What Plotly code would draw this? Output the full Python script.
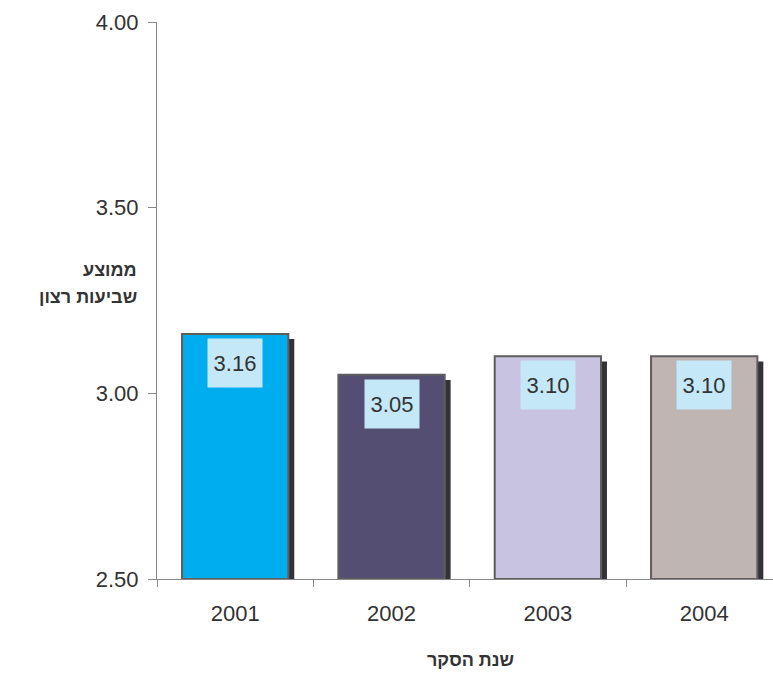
import plotly.graph_objects as go

years = ["2001", "2002", "2003", "2004"]
values = [3.16, 3.05, 3.10, 3.10]
labels = ["3.16", "3.05", "3.10", "3.10"]
colors = ["#00aeef", "#544e72", "#c7c3e0", "#bfb5b2"]
y_ticks = [2.5, 3.0, 3.5, 4.0]
y_tick_text = ["2.50", "3.00", "3.50", "4.00"]
y_title_lines = ["ממוצע", "שביעות רצון"]
x_title = "שנת הסקר"

FONT = "Liberation Sans, Arial, sans-serif"
W, H = 773, 674
ML, MR, MT, MB = 157, 0, 22, 95
PW, PH = W - ML - MR, H - MT - MB
base_val = 2.5
bar_w = 0.68
dx = 0.038
dy = 0.014


def px(x):
    return (x - ML) / PW


def py(y):
    return (H - MB - y) / PH


fig = go.Figure()
# shadow
fig.add_trace(go.Bar(
    x=years, y=[v - base_val for v in values], base=base_val - dy,
    width=bar_w, offset=-bar_w / 2 + dx,
    marker=dict(color="#333238", line=dict(width=0)),
    hoverinfo="skip", showlegend=False,
))
fig.add_trace(go.Bar(
    x=years, y=[v - base_val for v in values], base=base_val,
    width=bar_w, offset=-bar_w / 2,
    marker=dict(color=colors, line=dict(width=2, color="#5e5e5e")),
    showlegend=False,
))

for i, (v, t) in enumerate(zip(values, labels)):
    fig.add_annotation(
        x=i, y=v, xref="x", yref="y", text=t, showarrow=False,
        yanchor="top", yshift=-4, width=52, height=46,
        bgcolor="#c5e8f8", font=dict(family=FONT, size=22, color="#333333"),
        valign="middle",
    )

for line, yc in zip(y_title_lines, [270, 297]):
    fig.add_annotation(
        x=px(139), y=py(yc), xref="paper", yref="paper", text=line,
        showarrow=False, xanchor="right", yanchor="middle",
        font=dict(family=FONT, size=18, color="#333333", weight="bold"),
    )

fig.add_annotation(
    x=px(470), y=py(660), xref="paper", yref="paper", text=x_title,
    showarrow=False, xanchor="center", yanchor="middle",
    font=dict(family=FONT, size=18, color="#333333", weight="bold"),
)

fig.update_layout(
    width=W, height=H,
    margin=dict(l=ML, r=MR, t=MT, b=MB),
    paper_bgcolor="white", plot_bgcolor="white",
    barmode="overlay",
    font=dict(family=FONT, color="#333333"),
    xaxis=dict(
        type="category", range=[-0.5, 3.44],
        showline=True, linecolor="#888888", linewidth=1,
        ticks="outside", tickson="boundaries", ticklen=7, tickcolor="#888888",
        tickfont=dict(size=22, color="#333333"), showgrid=False,
        ticklabelstandoff=15,
    ),
    yaxis=dict(
        range=[2.5, 4.0], tickvals=y_ticks, ticktext=y_tick_text,
        showline=True, linecolor="#888888", linewidth=1,
        ticks="outside", ticklen=8, tickcolor="#888888",
        tickfont=dict(size=22, color="#333333"), showgrid=False, zeroline=False,
        ticklabelstandoff=5,
    ),
)

fig.write_html("out.html")
